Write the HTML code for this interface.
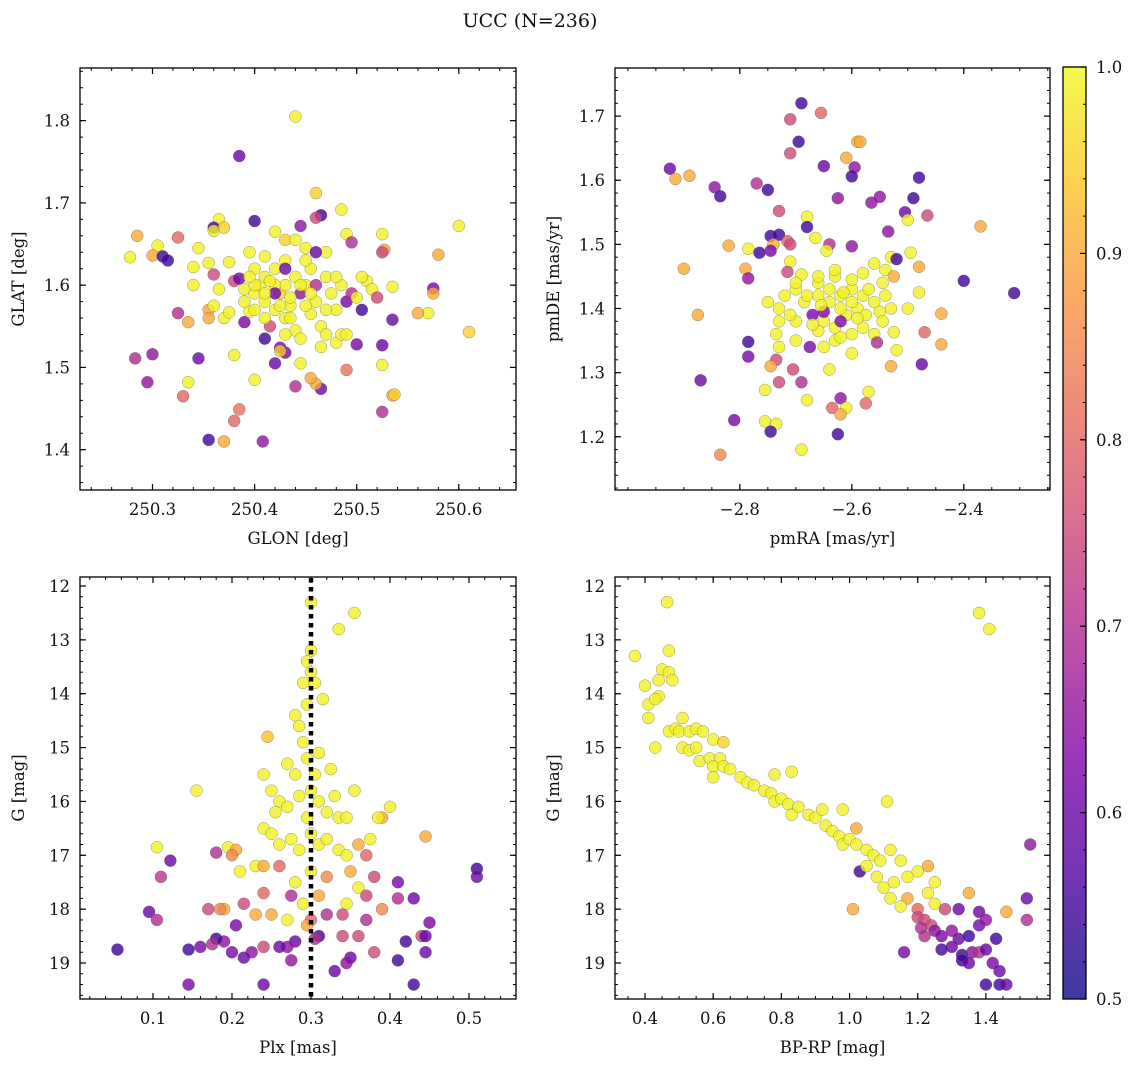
<!DOCTYPE html>
<html><head><meta charset="utf-8"><style>
body{margin:0;background:#fff}
svg text{font-family:"DejaVu Serif","Liberation Serif",serif;fill:#111}
</style></head><body>
<svg id="fig" width="1136" height="1067" xmlns="http://www.w3.org/2000/svg">
<defs><linearGradient id="cbg" x1="0" y1="1" x2="0" y2="0">
<stop offset="0" stop-color="#0d0887"/><stop offset="0.125" stop-color="#4c02a1"/><stop offset="0.25" stop-color="#7e03a8"/><stop offset="0.375" stop-color="#a92395"/><stop offset="0.5" stop-color="#cc4778"/><stop offset="0.625" stop-color="#e66c5c"/><stop offset="0.75" stop-color="#f89540"/><stop offset="0.875" stop-color="#fdc527"/><stop offset="1" stop-color="#f0f921"/></linearGradient></defs>
<text x="530" y="27" text-anchor="middle" font-size="19">UCC (N=236)</text>
</svg>
<script>
// Panel data: [x, y, probability]
const glonGlat=[[250.44,1.805,0.99],[250.385,1.757,0.6],[250.46,1.712,0.95],[250.365,1.68,0.99],[250.40,1.678,0.55],[250.36,1.67,0.55],[250.465,1.685,0.55],[250.46,1.682,0.75],[250.485,1.692,0.99],[250.285,1.66,0.9],[250.325,1.658,0.8],[250.305,1.648,0.99],[250.30,1.636,0.9],[250.31,1.635,0.55],[250.315,1.63,0.55],[250.278,1.634,0.99],[250.345,1.645,0.99],[250.36,1.666,0.99],[250.37,1.67,0.95],[250.42,1.665,0.99],[250.445,1.672,0.65],[250.43,1.655,0.95],[250.49,1.662,0.99],[250.525,1.662,0.99],[250.527,1.643,0.9],[250.525,1.64,0.75],[250.45,1.645,0.99],[250.495,1.652,0.7],[250.60,1.672,0.99],[250.58,1.637,0.9],[250.575,1.596,0.62],[250.575,1.59,0.9],[250.57,1.566,0.99],[250.56,1.566,0.9],[250.61,1.543,0.95],[250.535,1.598,0.99],[250.535,1.558,0.6],[250.525,1.527,0.6],[250.525,1.503,0.99],[250.535,1.466,0.9],[250.537,1.467,0.95],[250.525,1.446,0.7],[250.50,1.528,0.62],[250.505,1.57,0.55],[250.51,1.605,0.99],[250.48,1.53,0.99],[250.485,1.54,0.99],[250.49,1.497,0.82],[250.465,1.474,0.6],[250.46,1.48,0.9],[250.455,1.487,0.9],[250.445,1.505,0.99],[250.44,1.477,0.7],[250.43,1.518,0.62],[250.425,1.524,0.62],[250.42,1.505,0.6],[250.425,1.52,0.95],[250.40,1.485,0.99],[250.41,1.535,0.55],[250.38,1.515,0.99],[250.385,1.449,0.82],[250.38,1.435,0.8],[250.37,1.41,0.9],[250.355,1.412,0.55],[250.408,1.41,0.65],[250.33,1.465,0.8],[250.335,1.482,0.99],[250.345,1.511,0.6],[250.30,1.516,0.65],[250.283,1.511,0.7],[250.295,1.482,0.65],[250.325,1.566,0.7],[250.335,1.555,0.9],[250.34,1.60,0.99],[250.34,1.622,0.99],[250.355,1.627,0.99],[250.36,1.613,0.75],[250.355,1.57,0.9],[250.355,1.56,0.9],[250.36,1.575,0.99],[250.37,1.56,0.99],[250.375,1.567,0.99],[250.365,1.595,0.99],[250.375,1.628,0.99],[250.38,1.605,0.75],[250.385,1.608,0.6],[250.39,1.555,0.62],[250.395,1.568,0.99],[250.39,1.595,0.99],[250.40,1.59,0.99],[250.405,1.60,0.99],[250.41,1.58,0.99],[250.41,1.61,0.99],[250.415,1.55,0.75],[250.42,1.57,0.99],[250.42,1.62,0.99],[250.425,1.59,0.95],[250.43,1.60,0.99],[250.43,1.56,0.99],[250.435,1.575,0.99],[250.44,1.61,0.99],[250.44,1.545,0.99],[250.445,1.59,0.65],[250.45,1.60,0.99],[250.455,1.565,0.99],[250.455,1.62,0.99],[250.46,1.58,0.99],[250.46,1.60,0.7],[250.465,1.55,0.99],[250.47,1.61,0.99],[250.475,1.59,0.99],[250.48,1.57,0.99],[250.485,1.60,0.99],[250.49,1.58,0.62],[250.495,1.59,0.7],[250.50,1.585,0.99],[250.505,1.61,0.99],[250.515,1.595,0.99],[250.52,1.585,0.75],[250.49,1.54,0.99],[250.47,1.54,0.99],[250.465,1.525,0.99],[250.445,1.535,0.99],[250.43,1.54,0.99],[250.41,1.56,0.99],[250.40,1.62,0.99],[250.395,1.64,0.99],[250.41,1.635,0.99],[250.43,1.63,0.99],[250.45,1.63,0.99],[250.47,1.64,0.99],[250.44,1.655,0.99],[250.42,1.6,0.99],[250.435,1.585,0.99],[250.45,1.575,0.99],[250.4,1.57,0.99],[250.39,1.58,0.99],[250.47,1.57,0.99],[250.48,1.61,0.99],[250.46,1.64,0.6],[250.43,1.62,0.6],[250.42,1.59,0.6],[250.4,1.6,0.99],[250.41,1.59,0.99],[250.415,1.605,0.99],[250.425,1.575,0.99],[250.445,1.6,0.99],[250.455,1.59,0.99],[250.395,1.61,0.99],[250.435,1.56,0.99]];
const pmraPmde=[[-2.69,1.72,0.55],[-2.655,1.705,0.8],[-2.71,1.695,0.75],[-2.695,1.66,0.55],[-2.71,1.642,0.75],[-2.59,1.66,0.9],[-2.585,1.66,0.9],[-2.65,1.622,0.6],[-2.595,1.62,0.65],[-2.6,1.606,0.55],[-2.61,1.635,0.9],[-2.925,1.618,0.6],[-2.915,1.602,0.9],[-2.89,1.607,0.9],[-2.77,1.595,0.7],[-2.75,1.585,0.55],[-2.845,1.589,0.65],[-2.835,1.575,0.55],[-2.48,1.604,0.55],[-2.49,1.572,0.55],[-2.55,1.574,0.65],[-2.565,1.565,0.65],[-2.625,1.572,0.65],[-2.73,1.552,0.75],[-2.68,1.543,0.99],[-2.505,1.55,0.6],[-2.50,1.538,0.99],[-2.465,1.545,0.75],[-2.37,1.528,0.9],[-2.535,1.52,0.65],[-2.68,1.527,0.55],[-2.745,1.513,0.55],[-2.73,1.515,0.55],[-2.715,1.505,0.8],[-2.74,1.50,0.9],[-2.71,1.5,0.75],[-2.82,1.498,0.9],[-2.785,1.493,0.99],[-2.745,1.49,0.62],[-2.765,1.487,0.55],[-2.665,1.51,0.99],[-2.64,1.5,0.7],[-2.645,1.49,0.99],[-2.6,1.497,0.65],[-2.53,1.48,0.99],[-2.52,1.477,0.55],[-2.495,1.487,0.99],[-2.48,1.465,0.9],[-2.9,1.462,0.9],[-2.79,1.462,0.9],[-2.785,1.447,0.65],[-2.71,1.473,0.99],[-2.715,1.457,0.75],[-2.69,1.453,0.99],[-2.63,1.45,0.99],[-2.58,1.455,0.99],[-2.56,1.47,0.99],[-2.54,1.46,0.99],[-2.525,1.45,0.9],[-2.4,1.443,0.55],[-2.48,1.425,0.99],[-2.31,1.424,0.55],[-2.545,1.44,0.99],[-2.66,1.44,0.99],[-2.7,1.43,0.99],[-2.72,1.42,0.99],[-2.75,1.41,0.99],[-2.73,1.40,0.99],[-2.685,1.41,0.99],[-2.66,1.42,0.99],[-2.64,1.43,0.99],[-2.62,1.42,0.99],[-2.6,1.43,0.99],[-2.58,1.42,0.99],[-2.56,1.41,0.99],[-2.55,1.395,0.99],[-2.5,1.4,0.99],[-2.53,1.4,0.99],[-2.875,1.39,0.9],[-2.44,1.392,0.9],[-2.47,1.363,0.8],[-2.44,1.344,0.9],[-2.73,1.38,0.99],[-2.7,1.38,0.99],[-2.67,1.39,0.62],[-2.65,1.38,0.99],[-2.63,1.37,0.99],[-2.61,1.39,0.99],[-2.6,1.36,0.99],[-2.58,1.37,0.99],[-2.56,1.36,0.99],[-2.545,1.38,0.99],[-2.525,1.363,0.99],[-2.555,1.347,0.7],[-2.52,1.335,0.99],[-2.53,1.31,0.9],[-2.475,1.313,0.6],[-2.63,1.35,0.99],[-2.65,1.34,0.99],[-2.675,1.34,0.62],[-2.7,1.35,0.99],[-2.735,1.36,0.99],[-2.73,1.34,0.99],[-2.785,1.348,0.55],[-2.785,1.325,0.62],[-2.735,1.32,0.75],[-2.705,1.305,0.75],[-2.745,1.31,0.9],[-2.755,1.273,0.99],[-2.73,1.285,0.75],[-2.69,1.285,0.7],[-2.68,1.257,0.99],[-2.64,1.305,0.99],[-2.57,1.27,0.99],[-2.575,1.252,0.8],[-2.62,1.26,0.65],[-2.61,1.245,0.99],[-2.635,1.245,0.8],[-2.62,1.235,0.9],[-2.87,1.288,0.6],[-2.81,1.226,0.62],[-2.755,1.224,0.99],[-2.735,1.22,0.99],[-2.745,1.208,0.55],[-2.625,1.204,0.55],[-2.69,1.18,0.99],[-2.835,1.172,0.85],[-2.66,1.365,0.99],[-2.6,1.33,0.99],[-2.62,1.4,0.99],[-2.64,1.41,0.99],[-2.59,1.4,0.99],[-2.575,1.39,0.99],[-2.68,1.42,0.99],[-2.71,1.39,0.99],[-2.6,1.445,0.99],[-2.63,1.46,0.99],[-2.65,1.395,0.62],[-2.62,1.38,0.62],[-2.57,1.43,0.99],[-2.54,1.42,0.99],[-2.6,1.41,0.99],[-2.66,1.45,0.99],[-2.7,1.44,0.99],[-2.615,1.425,0.99],[-2.655,1.405,0.99],[-2.59,1.385,0.99],[-2.67,1.375,0.99],[-2.62,1.355,0.99]];
const plxG=[[0.30,12.3,0.99],[0.355,12.5,0.99],[0.335,12.8,0.99],[0.30,13.2,0.99],[0.295,13.4,0.99],[0.30,13.6,0.99],[0.29,13.8,0.99],[0.305,13.8,0.99],[0.315,14.1,0.99],[0.28,14.4,0.99],[0.285,14.6,0.99],[0.295,14.2,0.99],[0.29,14.9,0.99],[0.31,15.1,0.99],[0.295,15.2,0.99],[0.245,14.8,0.93],[0.24,15.5,0.99],[0.27,15.3,0.99],[0.28,15.5,0.99],[0.305,15.5,0.99],[0.325,15.4,0.99],[0.355,15.8,0.99],[0.33,15.9,0.99],[0.3,15.8,0.99],[0.285,15.9,0.99],[0.26,16.0,0.99],[0.27,16.1,0.99],[0.25,15.8,0.99],[0.255,16.2,0.99],[0.295,16.3,0.99],[0.31,16.0,0.99],[0.32,16.2,0.99],[0.335,16.3,0.99],[0.345,16.3,0.99],[0.39,16.3,0.9],[0.4,16.1,0.99],[0.155,15.8,0.99],[0.105,16.85,0.99],[0.122,17.1,0.6],[0.11,17.4,0.72],[0.18,16.95,0.7],[0.195,16.85,0.99],[0.205,16.9,0.9],[0.2,17.0,0.85],[0.21,17.3,0.99],[0.24,16.5,0.99],[0.25,16.6,0.99],[0.23,17.2,0.99],[0.24,17.2,0.9],[0.26,16.8,0.99],[0.275,16.7,0.99],[0.285,16.9,0.99],[0.3,16.6,0.99],[0.31,16.8,0.99],[0.32,16.7,0.99],[0.335,16.9,0.99],[0.345,17.0,0.99],[0.36,16.8,0.9],[0.37,17.0,0.8],[0.375,16.7,0.99],[0.385,16.3,0.99],[0.445,16.65,0.9],[0.51,17.25,0.55],[0.51,17.4,0.6],[0.26,17.2,0.8],[0.28,17.5,0.99],[0.3,17.3,0.99],[0.32,17.4,0.85],[0.35,17.3,0.9],[0.36,17.6,0.99],[0.38,17.4,0.75],[0.41,17.5,0.62],[0.37,17.75,0.75],[0.345,17.9,0.99],[0.31,17.75,0.9],[0.29,17.9,0.99],[0.275,17.75,0.7],[0.24,17.7,0.8],[0.215,17.9,0.75],[0.19,18.0,0.9],[0.185,18.0,0.85],[0.17,18.0,0.75],[0.095,18.05,0.6],[0.105,18.2,0.7],[0.205,18.3,0.62],[0.23,18.1,0.9],[0.25,18.1,0.9],[0.27,18.2,0.99],[0.3,18.2,0.8],[0.32,18.1,0.7],[0.34,18.1,0.75],[0.37,18.2,0.7],[0.39,18.0,0.85],[0.41,17.8,0.7],[0.43,17.8,0.6],[0.45,18.25,0.62],[0.44,18.5,0.75],[0.445,18.5,0.6],[0.42,18.6,0.55],[0.445,18.8,0.6],[0.41,18.95,0.55],[0.43,19.4,0.55],[0.38,18.8,0.75],[0.36,18.5,0.75],[0.34,18.5,0.75],[0.35,18.9,0.6],[0.345,19.0,0.65],[0.33,19.15,0.6],[0.31,18.5,0.55],[0.305,18.55,0.7],[0.295,18.3,0.9],[0.28,18.6,0.6],[0.27,18.7,0.65],[0.26,18.7,0.6],[0.275,18.95,0.65],[0.24,18.7,0.75],[0.225,18.8,0.65],[0.215,18.9,0.6],[0.2,18.8,0.62],[0.19,18.6,0.65],[0.18,18.55,0.55],[0.175,18.65,0.7],[0.16,18.7,0.62],[0.145,18.75,0.55],[0.055,18.75,0.55],[0.145,19.4,0.62],[0.24,19.4,0.6]];
const bprpG=[[0.465,12.3,0.99],[1.38,12.5,0.99],[1.41,12.8,0.99],[0.37,13.3,0.99],[0.47,13.2,0.99],[0.45,13.55,0.99],[0.44,13.75,0.99],[0.47,13.6,0.99],[0.48,13.75,0.99],[0.4,13.85,0.99],[0.44,14.05,0.99],[0.41,14.2,0.99],[0.43,14.1,0.99],[0.41,14.45,0.99],[0.47,14.7,0.99],[0.49,14.65,0.99],[0.51,14.45,0.99],[0.5,14.7,0.99],[0.53,14.7,0.99],[0.55,14.65,0.99],[0.57,14.7,0.99],[0.6,14.85,0.99],[0.63,14.9,0.95],[0.43,15.0,0.99],[0.51,15.0,0.99],[0.53,15.05,0.99],[0.55,15.0,0.99],[0.56,15.25,0.99],[0.59,15.2,0.99],[0.62,15.2,0.99],[0.6,15.35,0.99],[0.63,15.35,0.99],[0.65,15.4,0.99],[0.6,15.55,0.99],[0.78,15.5,0.99],[0.83,15.45,0.99],[0.68,15.55,0.99],[0.7,15.65,0.99],[0.72,15.7,0.99],[0.75,15.8,0.99],[0.77,15.85,0.99],[0.78,16.0,0.99],[0.8,15.95,0.99],[0.82,16.05,0.99],[0.85,16.1,0.99],[0.83,16.25,0.99],[0.88,16.25,0.99],[0.9,16.3,0.99],[0.92,16.15,0.99],[0.98,16.15,0.99],[1.11,16.0,0.99],[0.93,16.45,0.99],[0.95,16.55,0.99],[0.97,16.65,0.99],[0.98,16.8,0.99],[1.0,16.7,0.99],[1.02,16.5,0.9],[1.02,16.8,0.99],[1.05,16.9,0.99],[1.07,17.0,0.99],[1.09,17.1,0.99],[1.12,16.9,0.99],[1.15,17.1,0.99],[1.03,17.3,0.55],[1.05,17.2,0.99],[1.08,17.4,0.99],[1.1,17.6,0.99],[1.13,17.5,0.99],[1.17,17.4,0.99],[1.2,17.3,0.99],[1.23,17.2,0.9],[1.25,17.5,0.99],[1.23,17.7,0.99],[1.12,17.8,0.99],[1.17,17.8,0.9],[1.15,17.95,0.99],[1.2,18.0,0.8],[1.25,17.9,0.99],[1.28,18.0,0.75],[1.35,17.7,0.9],[1.32,18.0,0.6],[1.38,18.05,0.6],[1.46,18.05,0.9],[1.52,18.2,0.7],[1.52,17.8,0.6],[1.53,16.8,0.65],[1.01,18.0,0.9],[1.2,18.15,0.75],[1.22,18.2,0.75],[1.24,18.3,0.75],[1.21,18.35,0.7],[1.25,18.4,0.65],[1.22,18.5,0.7],[1.27,18.5,0.62],[1.3,18.4,0.65],[1.32,18.55,0.6],[1.35,18.5,0.55],[1.38,18.3,0.62],[1.4,18.2,0.65],[1.3,18.7,0.6],[1.27,18.75,0.55],[1.33,18.85,0.55],[1.36,18.8,0.65],[1.38,18.8,0.7],[1.4,18.75,0.6],[1.33,18.95,0.55],[1.35,19.0,0.6],[1.43,18.55,0.55],[1.42,19.0,0.62],[1.44,19.15,0.6],[1.4,19.4,0.55],[1.44,19.4,0.55],[1.46,19.4,0.6],[1.16,18.8,0.62]];
const p1XTicks=[250.3,250.4,250.5,250.6], p1YTicks=[1.4,1.5,1.6,1.7,1.8];
const p2XTicks=[-2.8,-2.6,-2.4], p2YTicks=[1.2,1.3,1.4,1.5,1.6,1.7];
const p3XTicks=[0.1,0.2,0.3,0.4,0.5], p3YTicks=[12,13,14,15,16,17,18,19];
const p4XTicks=[0.4,0.6,0.8,1.0,1.2,1.4], p4YTicks=[12,13,14,15,16,17,18,19];
const cbTicks=[0.5,0.6,0.7,0.8,0.9,1.0];
const plxRef=0.3;

const NS='http://www.w3.org/2000/svg';
const svg=document.getElementById('fig');
function mk(tag,attrs,parent){const e=document.createElementNS(NS,tag);for(const k in attrs)e.setAttribute(k,attrs[k]);(parent||svg).appendChild(e);return e;}
const stops=['#0d0887','#4c02a1','#7e03a8','#a92395','#cc4778','#e66c5c','#f89540','#fdc527','#f0f921'];
function hx(c){return [1,3,5].map(i=>parseInt(c.substr(i,2),16));}
function plasma(p){let t=Math.max(0,Math.min(1,(p-0.5)/0.5))*8;let i=Math.min(7,Math.floor(t)),f=t-i;const a=hx(stops[i]),b=hx(stops[i+1]);return 'rgb('+a.map((v,k)=>Math.round(v+(b[k]-v)*f)).join(',')+')';}
function fmt(v,d){return (v<0?'\u2212':'')+Math.abs(v).toFixed(d);}

function panel(name,box,xr,yr,xt,yt,xminor,yminor,xd,yd,data,xlabel,ylabel){
  const [L,T,R,B]=box;
  const sx=v=>L+(v-xr[0])/(xr[1]-xr[0])*(R-L);
  const sy=v=>B-(v-yr[0])/(yr[1]-yr[0])*(B-T);
  const g=mk('g',{});
  
  
  const cp=mk('clipPath',{id:'c'+name},g);mk('rect',{x:L,y:T,width:R-L,height:B-T},cp);
  const pts=mk('g',{'clip-path':'url(#c'+name+')'},g);
  
  
  data.forEach(d=>{const c=mk('circle',{cx:sx(d[0]),cy:sy(d[1]),r:6,fill:plasma(d[2]),'fill-opacity':0.8,stroke:'#555','stroke-width':0.5,'stroke-opacity':0.6},pts);
    
    });
  const lo=Math.min(xr[0],xr[1]),hi=Math.max(xr[0],xr[1]);
  for(let v=Math.ceil(lo/xminor)*xminor;v<=hi;v+=xminor){const x=sx(v);mk('line',{x1:x,x2:x,y1:B,y2:B-3,stroke:'#000','stroke-width':1},g);mk('line',{x1:x,x2:x,y1:T,y2:T+3,stroke:'#000','stroke-width':1},g);}
  const ylo=Math.min(yr[0],yr[1]),yhi=Math.max(yr[0],yr[1]);
  for(let v=Math.ceil(ylo/yminor)*yminor;v<=yhi;v+=yminor){const y=sy(v);mk('line',{x1:L,x2:L+3,y1:y,y2:y,stroke:'#000','stroke-width':1},g);mk('line',{x1:R,x2:R-3,y1:y,y2:y,stroke:'#000','stroke-width':1},g);}
  xt.forEach(v=>{const x=sx(v);mk('line',{x1:x,x2:x,y1:B,y2:B-6,stroke:'#000','stroke-width':1.2},g);mk('line',{x1:x,x2:x,y1:T,y2:T+6,stroke:'#000','stroke-width':1.2},g);
    const t=mk('text',{x:x,y:B+25,'text-anchor':'middle','font-size':16.5},g);t.textContent=fmt(v,xd);
    
    });
  yt.forEach(v=>{const y=sy(v);mk('line',{x1:L,x2:L+6,y1:y,y2:y,stroke:'#000','stroke-width':1.2},g);mk('line',{x1:R,x2:R-6,y1:y,y2:y,stroke:'#000','stroke-width':1.2},g);
    const t=mk('text',{x:L-10,y:y+6,'text-anchor':'end','font-size':16.5},g);t.textContent=fmt(v,yd);
    
    });
  mk('rect',{x:L,y:T,width:R-L,height:B-T,fill:'none',stroke:'#000','stroke-width':1.3},g);
  const xl=mk('text',{x:(L+R)/2,y:B+54,'text-anchor':'middle','font-size':16.5},g);xl.textContent=xlabel;
  
  
  const yl=mk('text',{x:0,y:0,'text-anchor':'middle','font-size':16.5,transform:'translate('+(L-56)+','+((T+B)/2)+') rotate(-90)'},g);yl.textContent=ylabel;
  
  
  return {sx,sy,g};
}
panel('glon-glat-panel',[80,68,516,490],[250.229,250.656],[1.351,1.864],p1XTicks,p1YTicks,0.02,0.02,1,1,glonGlat,'GLON [deg]','GLAT [deg]');
panel('pm-panel',[615,68,1050,490],[-3.023,-2.246],[1.117,1.775],p2XTicks,p2YTicks,0.05,0.02,1,1,pmraPmde,'pmRA [mas/yr]','pmDE [mas/yr]');
const p3=panel('plx-g-panel',[80,577,516,999],[0.0076,0.5595],[19.668,11.833],p3XTicks,p3YTicks,0.02,0.2,1,0,plxG,'Plx [mas]','G [mag]');
const ref=mk('line',{x1:p3.sx(plxRef),x2:p3.sx(plxRef),y1:578,y2:998,stroke:'#000','stroke-width':4.5,'stroke-dasharray':'4.5 4.5'},p3.g);


panel('cmd-panel',[615,577,1050,999],[0.312,1.588],[19.668,11.833],p4XTicks,p4YTicks,0.05,0.2,1,0,bprpG,'BP-RP [mag]','G [mag]');
const cb=mk('g',{});


const cT=67,cB=999,cL=1063,cR=1086;
mk('rect',{x:cL,y:cT,width:cR-cL,height:cB-cT,fill:'url(#cbg)','fill-opacity':0.8},cb);
const cy=v=>cB-(v-0.5)/0.5*(cB-cT);
for(let v=0.5;v<=1.0001;v+=0.02){mk('line',{x1:cR,x2:cR-3,y1:cy(v),y2:cy(v),stroke:'#000','stroke-width':1},cb);}
cbTicks.forEach(v=>{mk('line',{x1:cR,x2:cR-6,y1:cy(v),y2:cy(v),stroke:'#000','stroke-width':1.2},cb);
  const t=mk('text',{x:cR+10,y:cy(v)+6,'font-size':16.5},cb);t.textContent=v.toFixed(1);
  
  });
mk('rect',{x:cL,y:cT,width:cR-cL,height:cB-cT,fill:'none',stroke:'#000','stroke-width':1.3},cb);
</script>
</body></html>
